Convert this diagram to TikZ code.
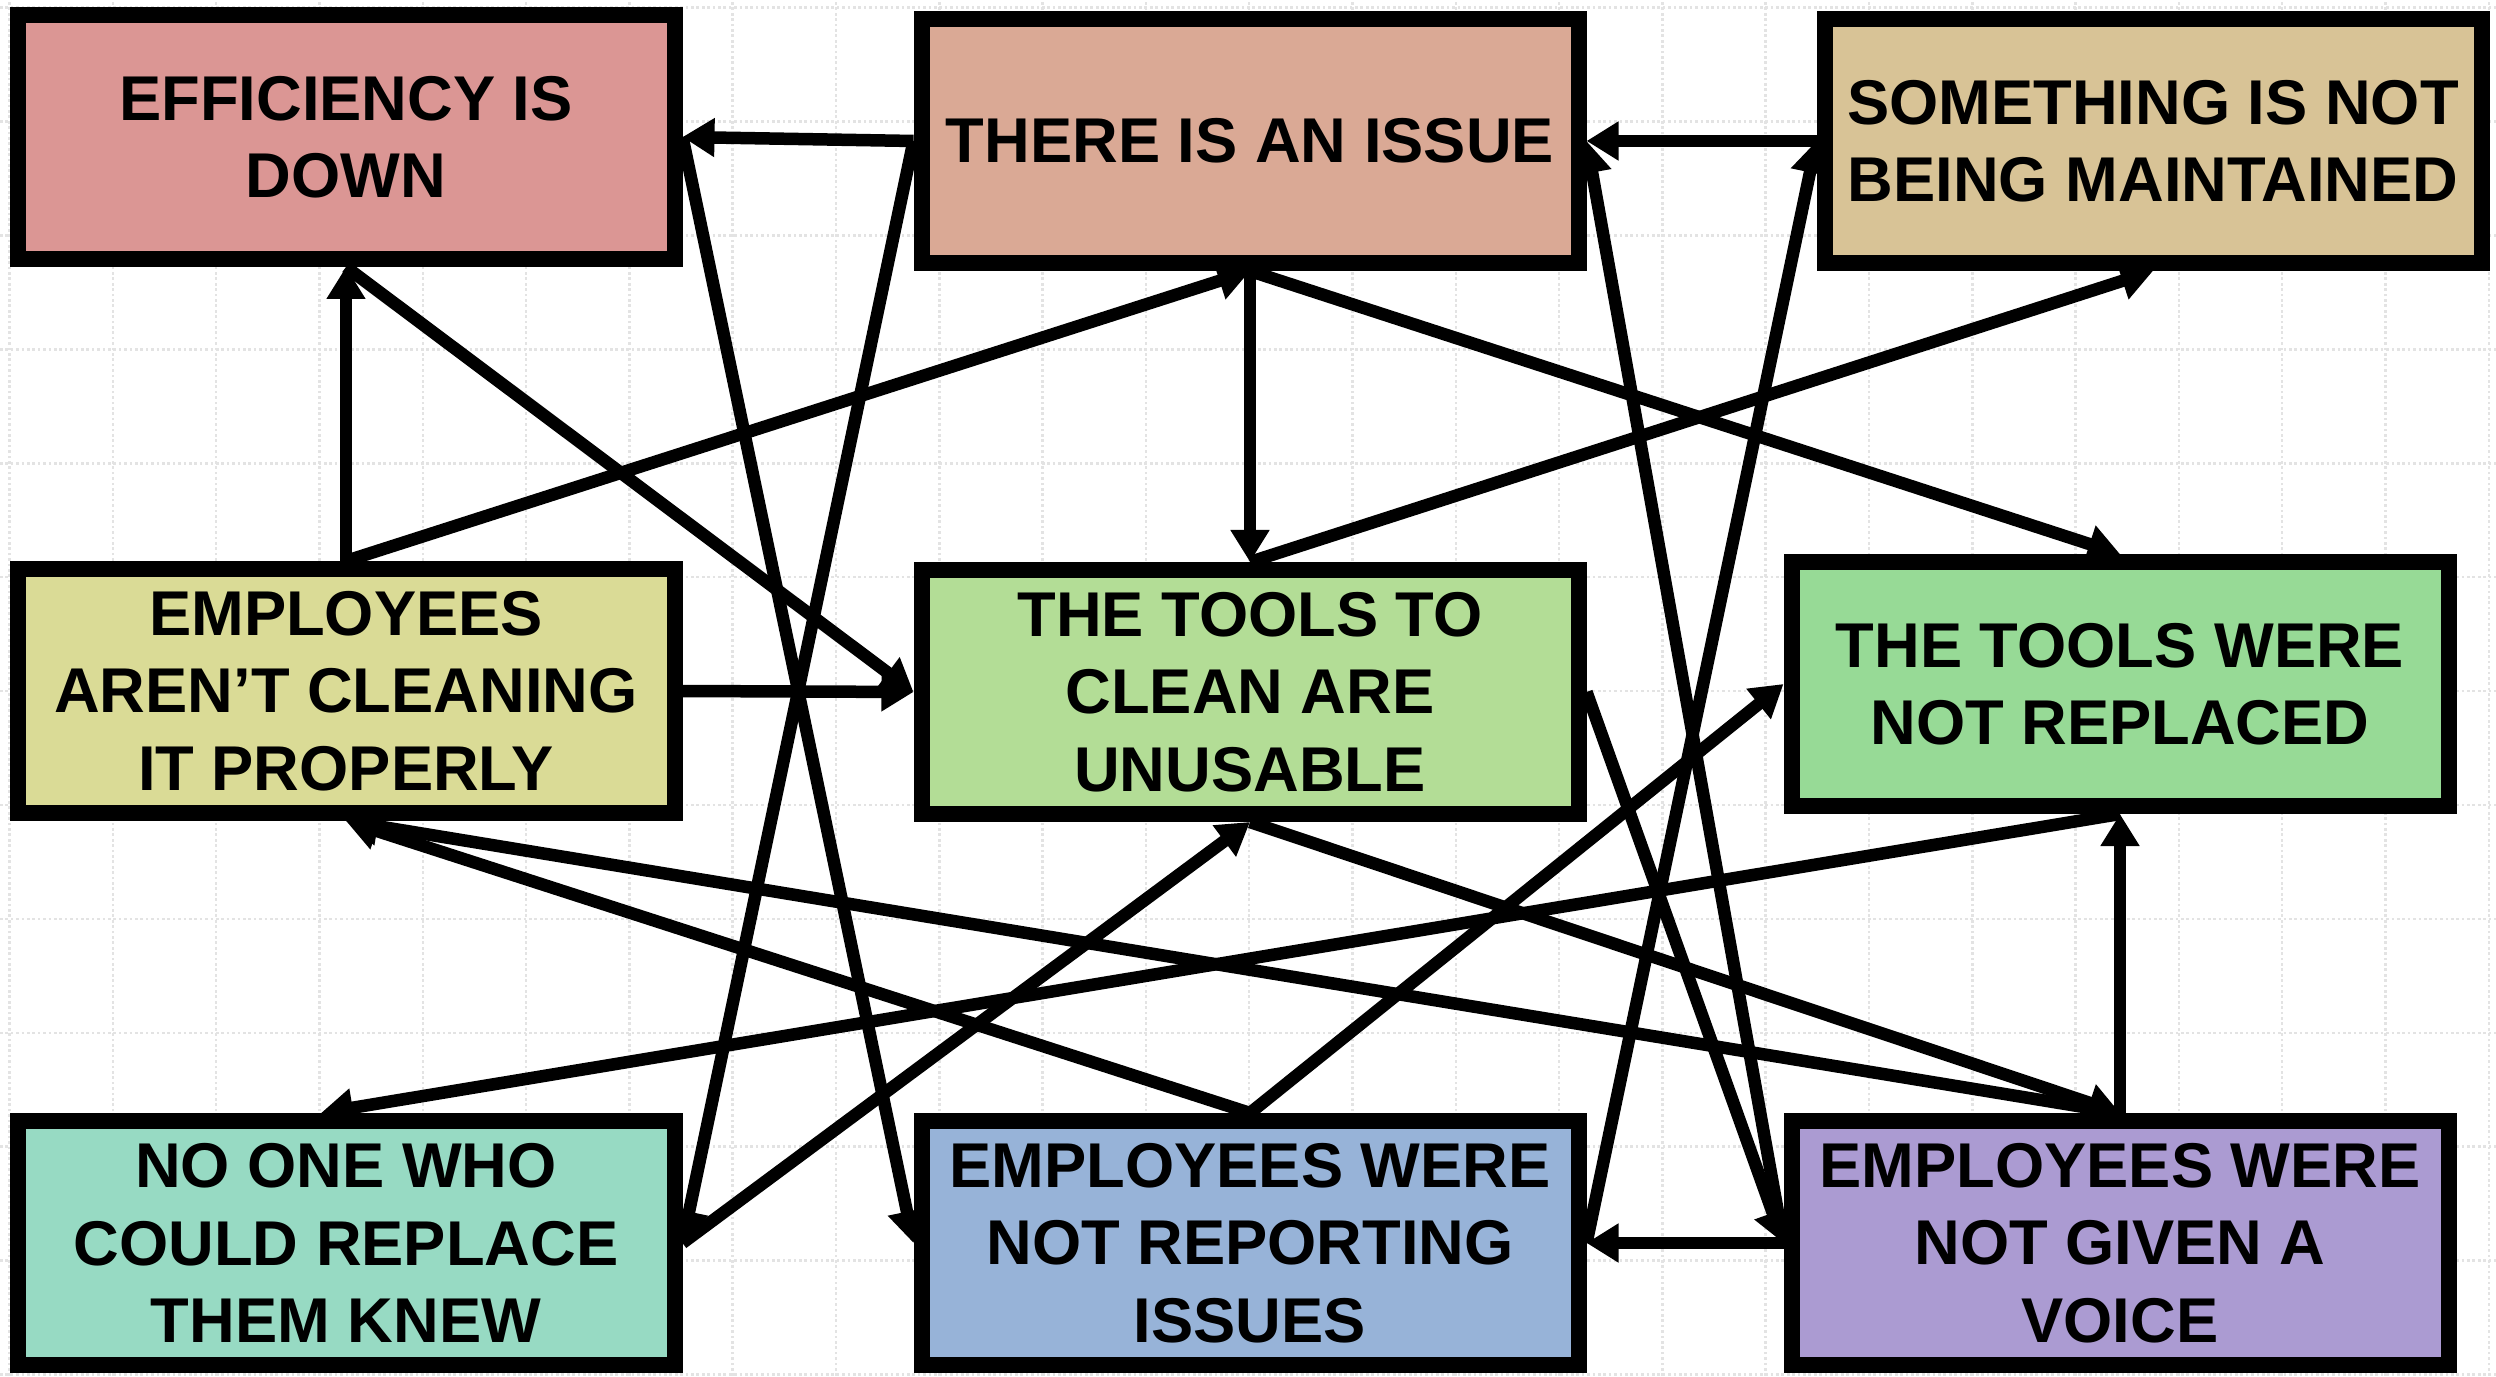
\documentclass[tikz,border=0pt]{standalone}
\usepackage{fontspec}
\setmainfont{Liberation Sans}
\usepackage{xcolor}
\usepackage{tikz}
\usetikzlibrary{arrows.meta}
\pgfdeclarelayer{gridlayer}
\pgfdeclarelayer{nodelayer}
\pgfdeclarelayer{edgelayer}
\pgfsetlayers{gridlayer,nodelayer,edgelayer,main}

\definecolor{effred}{HTML}{DB9694}
\definecolor{issuesalmon}{HTML}{DAA995}
\definecolor{maintsand}{HTML}{D8C396}
\definecolor{cleanolive}{HTML}{DADB96}
\definecolor{toollime}{HTML}{B3DD96}
\definecolor{replgreen}{HTML}{97DA96}
\definecolor{noneteal}{HTML}{97DAC3}
\definecolor{reportblue}{HTML}{97B3D8}
\definecolor{voicepurple}{HTML}{AB9BD2}
\definecolor{gridgrey}{HTML}{E3E3E3}

\tikzset{
  issuebox/.style={draw=black, line width=0.16cm, minimum width=6.57cm, minimum height=2.44cm,
    inner sep=0pt, align=center, font=\fontsize{18pt}{22pt}\selectfont\bfseries},
  cause/.style={line width=0.125cm, -{Triangle[length=0.32cm,width=0.37cm]}},
  gridline/.style={draw=gridgrey, line width=0.025cm, dash pattern=on 0.027cm off 0.027cm}
}

\begin{document}
\begin{tikzpicture}
  \useasboundingbox (0, 0) rectangle (24.96, 13.76);
  \begin{pgfonlayer}{gridlayer}
    \foreach \gx in {0,...,24}
      \draw [gridline] ({0.096+1.033*\gx}, 0) to ({0.096+1.033*\gx}, 13.76);
    \foreach \gy in {0,...,12}
      \draw [gridline] (0, {13.683-1.139*\gy}) to (24.96, {13.683-1.139*\gy});
  \end{pgfonlayer}
  \begin{pgfonlayer}{nodelayer}
    \node [issuebox, fill=effred] (0) at (3.46, 12.39) {EFFICIENCY IS\\DOWN};
    \node [issuebox, fill=issuesalmon] (1) at (12.50, 12.35) {THERE IS AN ISSUE};
    \node [issuebox, fill=maintsand] (2) at (21.53, 12.35) {SOMETHING IS NOT\\BEING MAINTAINED};
    \node [issuebox, fill=cleanolive] (3) at (3.46, 6.85) {EMPLOYEES\\AREN’T CLEANING\\IT PROPERLY};
    \node [issuebox, fill=toollime] (4) at (12.50, 6.84) {THE TOOLS TO\\CLEAN ARE\\UNUSABLE};
    \node [issuebox, fill=replgreen] (5) at (21.20, 6.92) {THE TOOLS WERE\\NOT REPLACED};
    \node [issuebox, fill=noneteal] (6) at (3.46, 1.33) {NO ONE WHO\\COULD REPLACE\\THEM KNEW};
    \node [issuebox, fill=reportblue] (7) at (12.50, 1.33) {EMPLOYEES WERE\\NOT REPORTING\\ISSUES};
    \node [issuebox, fill=voicepurple] (8) at (21.20, 1.33) {EMPLOYEES WERE\\NOT GIVEN A\\VOICE};
  \end{pgfonlayer}
  \begin{pgfonlayer}{edgelayer}
    \draw [cause] (1.west) to (0.east);
    \draw [cause] (2.west) to (1.east);
    \draw [cause] (3.north) to (0.south);
    \draw [cause] (3.north) to (1.south);
    \draw [cause] (1.south) to (4.north);
    \draw [cause] (1.south) to (5.north);
    \draw [cause] (4.north) to (2.south);
    \draw [cause] (0.south) to (4.west);
    \draw [cause] (3.east) to (4.west);
    \draw [cause] (1.west) to (6.east);
    \draw [cause] (0.east) to (7.west);
    \draw [cause] (6.east) to (4.south);
    \draw [cause] (5.south) to ([xshift=-0.25cm]6.north);
    \draw [cause] (8.north) to (3.south);
    \draw [cause] (8.north) to (5.south);
    \draw [cause] (8.west) to (7.east);
    \draw [cause] (7.east) to (2.west);
    \draw [cause] (8.west) to (1.east);
    \draw [cause] (4.east) to (8.west);
    \draw [cause] (7.north) to (5.west);
    \draw [cause] (7.north) to (3.south);
    \draw [cause] (4.south) to (8.north);
  \end{pgfonlayer}
\end{tikzpicture}
\end{document}
